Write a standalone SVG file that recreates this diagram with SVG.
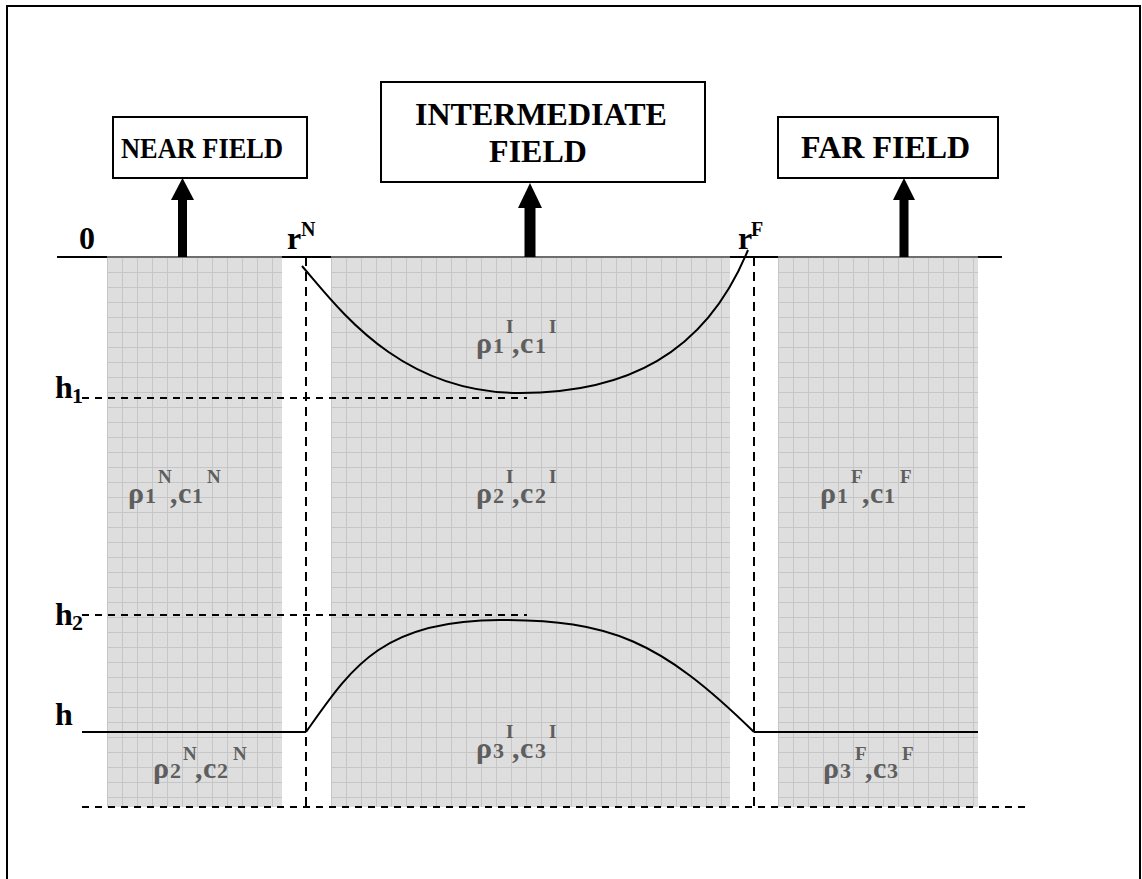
<svg xmlns="http://www.w3.org/2000/svg" width="1142" height="879" viewBox="0 0 1142 879">
<defs>
<style>
.lbl{font-family:"Liberation Serif","Times New Roman",serif;font-weight:bold;fill:#000}
.reg{font-family:"Liberation Serif","Times New Roman",serif;font-weight:bold;fill:#5e5e5e}
.big{font-size:32px}
.rc{font-size:30px}
.dg{font-size:22px}
.sp{font-size:19px}
.box{fill:#fff;stroke:#000;stroke-width:2}
.dash{stroke:#000;stroke-width:2;stroke-dasharray:7 6;fill:none}
.vdash{stroke:#000;stroke-width:2;stroke-dasharray:9 6;fill:none}
.solid{stroke:#000;stroke-width:2;fill:none}
.gridp{stroke:#c6c6c6;stroke-width:1;fill:none}
</style>
<pattern id="gN" x="107" y="257" width="15" height="15" patternUnits="userSpaceOnUse"><rect width="15" height="15" fill="#dedede"/><path class="gridp" d="M0.5,0V15M0,0.5H15"/></pattern>
<pattern id="gI" x="331" y="257" width="15" height="15" patternUnits="userSpaceOnUse"><rect width="15" height="15" fill="#dedede"/><path class="gridp" d="M0.5,0V15M0,0.5H15"/></pattern>
<pattern id="gF" x="778" y="257" width="15" height="15" patternUnits="userSpaceOnUse"><rect width="15" height="15" fill="#dedede"/><path class="gridp" d="M0.5,0V15M0,0.5H15"/></pattern>
</defs>
<rect width="1142" height="879" fill="#fff"/>
<path d="M7,879V6H1140V879" fill="none" stroke="#000" stroke-width="2"/>

<g id="regions">
<rect id="near-region" x="107" y="257" width="175" height="550" fill="url(#gN)"/>
<rect id="intermediate-region" x="331" y="257" width="399" height="550" fill="url(#gI)"/>
<rect id="far-region" x="778" y="257" width="200" height="550" fill="url(#gF)"/>
</g>

<g id="connectors">
<line x1="57" y1="257" x2="1002" y2="257" class="solid"/>
<g stroke="#6e6e6e" stroke-width="2">
<line x1="107" y1="257" x2="282" y2="257"/>
<line x1="331" y1="257" x2="730" y2="257"/>
<line x1="778" y1="257" x2="978" y2="257"/>
</g>
<line x1="306" y1="257" x2="306" y2="807" class="vdash"/>
<line x1="754" y1="257" x2="754" y2="807" class="vdash"/>
<line x1="82" y1="398" x2="527" y2="398" class="dash"/>
<line x1="82" y1="615" x2="527" y2="615" class="dash"/>
<line x1="82" y1="807" x2="1028" y2="807" class="dash"/>
<line x1="82" y1="732" x2="306" y2="732" class="solid"/>
<line x1="754" y1="732" x2="978" y2="732" class="solid"/>
<path d="M302,266 C340,310 400,393 520,393 C625,393 705,355 748,250" class="solid"/>
<path d="M306,732 C350,670 380,620 500,620 C610,620 660,640 754,732" class="solid"/>
<g id="arrows" fill="#000">
<rect x="178" y="198" width="9" height="59"/>
<polygon points="171,200 182.5,178 194,200"/>
<rect x="524.5" y="206" width="11" height="51"/>
<polygon points="518,208 530,183 542,208"/>
<rect x="899.5" y="198" width="9" height="59"/>
<polygon points="893,200 904,178 915,200"/>
</g>
</g>

<g id="near-field">
<rect class="box" x="113" y="117" width="194" height="61"/>
<text class="lbl" style="font-size:29px" x="121" y="158" textLength="162" lengthAdjust="spacingAndGlyphs">NEAR FIELD</text>
</g>
<g id="intermediate-field">
<rect class="box" x="381" y="82" width="324" height="100"/>
<text class="lbl big" x="541" y="125" text-anchor="middle">INTERMEDIATE</text>
<text class="lbl big" x="538" y="162" text-anchor="middle">FIELD</text>
</g>
<g id="far-field">
<rect class="box" x="778" y="117" width="220" height="61"/>
<text class="lbl big" x="801" y="158">FAR FIELD</text>
</g>

<g id="axis-labels">
<text class="lbl big" x="79" y="249">0</text>
<text class="lbl"><tspan class="big" x="287" y="249">r</tspan><tspan style="font-size:20px" x="301" y="236">N</tspan></text>
<text class="lbl"><tspan class="big" x="738" y="249">r</tspan><tspan style="font-size:20px" x="751" y="236">F</tspan></text>
<text class="lbl"><tspan class="big" x="55" y="398">h</tspan><tspan class="dg" x="72" y="403">1</tspan></text>
<text class="lbl"><tspan class="big" x="55" y="625">h</tspan><tspan class="dg" x="72" y="630">2</tspan></text>
<text class="lbl big" x="55" y="725">h</text>
</g>

<g id="region-labels">
<text class="reg"><tspan class="rc" x="128" y="503">ρ</tspan><tspan class="dg" x="145" y="503">1</tspan><tspan class="sp" x="158" y="483">N</tspan><tspan class="rc" x="170" y="503">,</tspan><tspan class="rc" x="178" y="503">c</tspan><tspan class="dg" x="192" y="503">1</tspan><tspan class="sp" x="207" y="483">N</tspan></text>
<text class="reg"><tspan class="rc" x="153" y="778">ρ</tspan><tspan class="dg" x="170" y="778">2</tspan><tspan class="sp" x="183" y="760">N</tspan><tspan class="rc" x="195" y="778">,</tspan><tspan class="rc" x="203" y="778">c</tspan><tspan class="dg" x="217" y="778">2</tspan><tspan class="sp" x="233" y="760">N</tspan></text>
<text class="reg"><tspan class="rc" x="476" y="353">ρ</tspan><tspan class="dg" x="493" y="353">1</tspan><tspan class="sp" x="506" y="333">I</tspan><tspan class="rc" x="512" y="353">,</tspan><tspan class="rc" x="520" y="353">c</tspan><tspan class="dg" x="535" y="353">1</tspan><tspan class="sp" x="549" y="333">I</tspan></text>
<text class="reg"><tspan class="rc" x="476" y="503">ρ</tspan><tspan class="dg" x="493" y="503">2</tspan><tspan class="sp" x="506" y="483">I</tspan><tspan class="rc" x="512" y="503">,</tspan><tspan class="rc" x="520" y="503">c</tspan><tspan class="dg" x="535" y="503">2</tspan><tspan class="sp" x="549" y="483">I</tspan></text>
<text class="reg"><tspan class="rc" x="476" y="758">ρ</tspan><tspan class="dg" x="493" y="758">3</tspan><tspan class="sp" x="506" y="738">I</tspan><tspan class="rc" x="512" y="758">,</tspan><tspan class="rc" x="520" y="758">c</tspan><tspan class="dg" x="535" y="758">3</tspan><tspan class="sp" x="549" y="738">I</tspan></text>
<text class="reg"><tspan class="rc" x="820" y="503">ρ</tspan><tspan class="dg" x="837" y="503">1</tspan><tspan class="sp" x="851" y="483">F</tspan><tspan class="rc" x="862" y="503">,</tspan><tspan class="rc" x="870" y="503">c</tspan><tspan class="dg" x="884" y="503">1</tspan><tspan class="sp" x="900" y="483">F</tspan></text>
<text class="reg"><tspan class="rc" x="823" y="778">ρ</tspan><tspan class="dg" x="840" y="778">3</tspan><tspan class="sp" x="855" y="760">F</tspan><tspan class="rc" x="865" y="778">,</tspan><tspan class="rc" x="873" y="778">c</tspan><tspan class="dg" x="887" y="778">3</tspan><tspan class="sp" x="902" y="760">F</tspan></text>
</g>
</svg>
